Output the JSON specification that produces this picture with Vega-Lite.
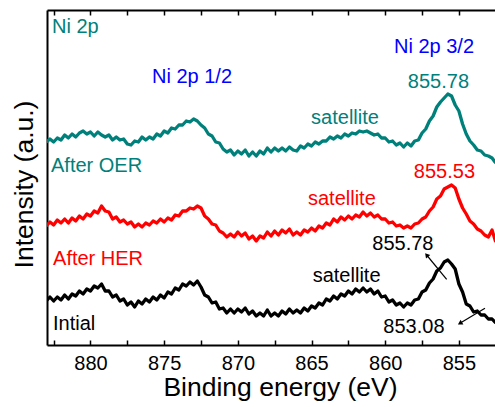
{
  "$schema": "https://vega.github.io/schema/vega-lite/v6.json",
  "width": 448,
  "height": 335,
  "autosize": "none",
  "padding": {"left": 47, "top": 10, "right": 0, "bottom": 62},
  "config": {
    "view": {"stroke": null},
    "font": "Liberation Sans",
    "text": {"font": "Liberation Sans"}
  },
  "resolve": {"axis": {"x": "independent", "y": "independent"}},
  "datasets": {
    "spectra": [
      {"e":883.00,"o":142,"h":226,"i":301},{"e":882.75,"o":139,"h":222,"i":297},{"e":882.50,"o":142,"h":225,"i":301},{"e":882.25,"o":138,"h":220,"i":297},
      {"e":882.00,"o":140,"h":223,"i":300},{"e":881.75,"o":135,"h":219,"i":295},{"e":881.50,"o":138,"h":223,"i":299},{"e":881.25,"o":134,"h":218,"i":294},
      {"e":881.00,"o":137,"h":221,"i":296},{"e":880.75,"o":133,"h":216,"i":291},{"e":880.50,"o":131,"h":219,"i":294},{"e":880.25,"o":134,"h":214,"i":289},
      {"e":880.00,"o":132,"h":216,"i":291},{"e":879.75,"o":136,"h":211,"i":286},{"e":879.50,"o":132,"h":213,"i":288},{"e":879.25,"o":135,"h":206,"i":284},
      {"e":879.00,"o":137,"h":211,"i":291},{"e":878.75,"o":135,"h":212,"i":291},{"e":878.50,"o":140,"h":219,"i":297},{"e":878.25,"o":137,"h":217,"i":295},
      {"e":878.00,"o":140,"h":222,"i":301},{"e":877.75,"o":139,"h":220,"i":299},{"e":877.50,"o":144,"h":224,"i":305},{"e":877.25,"o":145,"h":222,"i":302},
      {"e":877.00,"o":141,"h":227,"i":307},{"e":876.75,"o":142,"h":224,"i":301},{"e":876.50,"o":137,"h":227,"i":304},{"e":876.25,"o":140,"h":223,"i":299},
      {"e":876.00,"o":137,"h":225,"i":302},{"e":875.75,"o":139,"h":221,"i":297},{"e":875.50,"o":134,"h":223,"i":300},{"e":875.25,"o":136,"h":219,"i":295},
      {"e":875.00,"o":131,"h":222,"i":298},{"e":874.75,"o":133,"h":218,"i":292},{"e":874.50,"o":128,"h":220,"i":294},{"e":874.25,"o":129,"h":215,"i":288},
      {"e":874.00,"o":125,"h":216,"i":290},{"e":873.75,"o":125,"h":211,"i":284},{"e":873.50,"o":121,"h":211,"i":286},{"e":873.25,"o":122,"h":208,"i":282},
      {"e":873.00,"o":119,"h":209,"i":285},{"e":872.75,"o":121,"h":206,"i":281},{"e":872.50,"o":125,"h":208,"i":287},{"e":872.25,"o":128,"h":216,"i":295},
      {"e":872.00,"o":134,"h":219,"i":297},{"e":871.75,"o":136,"h":224,"i":303},{"e":871.50,"o":142,"h":225,"i":302},{"e":871.25,"o":143,"h":231,"i":309},
      {"e":871.00,"o":149,"h":233,"i":308},{"e":870.75,"o":152,"h":237,"i":313},{"e":870.50,"o":150,"h":234,"i":309},{"e":870.25,"o":155,"h":237,"i":313},
      {"e":870.00,"o":151,"h":232,"i":309},{"e":869.75,"o":154,"h":236,"i":312},{"e":869.50,"o":150,"h":233,"i":308},{"e":869.25,"o":156,"h":239,"i":314},
      {"e":869.00,"o":152,"h":236,"i":311},{"e":868.75,"o":156,"h":241,"i":316},{"e":868.50,"o":151,"h":236,"i":313},{"e":868.25,"o":154,"h":238,"i":316},
      {"e":868.00,"o":148,"h":232,"i":310},{"e":867.75,"o":152,"h":236,"i":316},{"e":867.50,"o":148,"h":231,"i":313},{"e":867.25,"o":151,"h":235,"i":316},
      {"e":867.00,"o":148,"h":230,"i":311},{"e":866.75,"o":151,"h":233,"i":314},{"e":866.50,"o":147,"h":229,"i":309},{"e":866.25,"o":150,"h":235,"i":313},
      {"e":866.00,"o":151,"h":232,"i":310},{"e":865.75,"o":146,"h":235,"i":313},{"e":865.50,"o":148,"h":230,"i":308},{"e":865.25,"o":144,"h":232,"i":311},
      {"e":865.00,"o":146,"h":228,"i":306},{"e":864.75,"o":142,"h":231,"i":308},{"e":864.50,"o":144,"h":226,"i":303},{"e":864.25,"o":141,"h":228,"i":305},
      {"e":864.00,"o":141,"h":223,"i":299},{"e":863.75,"o":137,"h":225,"i":301},{"e":863.50,"o":139,"h":219,"i":296},{"e":863.25,"o":136,"h":222,"i":299},
      {"e":863.00,"o":138,"h":217,"i":294},{"e":862.75,"o":134,"h":220,"i":296},{"e":862.50,"o":136,"h":216,"i":291},{"e":862.25,"o":133,"h":219,"i":294},
      {"e":862.00,"o":134,"h":215,"i":289},{"e":861.75,"o":131,"h":217,"i":292},{"e":861.50,"o":132,"h":212,"i":288},{"e":861.25,"o":131,"h":216,"i":292},
      {"e":861.00,"o":133,"h":213,"i":289},{"e":860.75,"o":135,"h":217,"i":294},{"e":860.50,"o":134,"h":215,"i":291},{"e":860.25,"o":138,"h":219,"i":297},
      {"e":860.00,"o":138,"h":219,"i":296},{"e":859.75,"o":142,"h":223,"i":302},{"e":859.50,"o":141,"h":222,"i":300},{"e":859.25,"o":145,"h":226,"i":305},
      {"e":859.00,"o":143,"h":225,"i":303},{"e":858.75,"o":147,"h":228,"i":307},{"e":858.50,"o":143,"h":226,"i":303},{"e":858.25,"o":146,"h":228,"i":305},
      {"e":858.00,"o":141,"h":224,"i":300},{"e":857.75,"o":140,"h":223,"i":299},{"e":857.50,"o":133,"h":219,"i":292},{"e":857.25,"o":129,"h":217,"i":290},
      {"e":857.00,"o":121,"h":211,"i":283},{"e":856.75,"o":116,"h":207,"i":279},{"e":856.50,"o":107,"h":199,"i":271},{"e":856.25,"o":102,"h":196,"i":268},
      {"e":856.00,"o":98,"h":189,"i":262},{"e":855.75,"o":94,"h":187,"i":260},{"e":855.50,"o":96,"h":185,"i":264},{"e":855.25,"o":105,"h":188,"i":269},
      {"e":855.00,"o":111,"h":199,"i":284},{"e":854.75,"o":124,"h":208,"i":292},{"e":854.50,"o":134,"h":214,"i":304},{"e":854.25,"o":141,"h":221,"i":306},
      {"e":854.00,"o":145,"h":224,"i":312},{"e":853.75,"o":150,"h":229,"i":311},{"e":853.50,"o":151,"h":231,"i":315},{"e":853.25,"o":155,"h":235,"i":315},
      {"e":853.00,"o":156,"h":237,"i":319},{"e":852.75,"o":158,"h":230,"i":319},{"e":852.50,"o":163,"h":242,"i":323}
    ],
    "labelsLeft": [
      {"e":882.61,"py":33,"text":"Ni 2p","series":"o"},
      {"e":882.68,"py":172,"text":"After OER","series":"o"},
      {"e":882.54,"py":265,"text":"After HER","series":"h"},
      {"e":882.54,"py":330,"text":"Intial","series":"i"}
    ],
    "labelsCenter": [
      {"e":873.11,"py":83,"text":"Ni 2p 1/2","series":"b"},
      {"e":856.69,"py":53,"text":"Ni 2p 3/2","series":"b"},
      {"e":856.39,"py":88,"text":"855.78","series":"o"},
      {"e":862.73,"py":124,"text":"satellite","series":"o"},
      {"e":855.98,"py":178,"text":"855.53","series":"h"},
      {"e":862.94,"py":205,"text":"satellite","series":"h"},
      {"e":862.62,"py":282,"text":"satellite","series":"i"},
      {"e":858.80,"py":250,"text":"855.78","series":"i"},
      {"e":858.05,"py":333,"text":"853.08","series":"i"}
    ],
    "arrows": [
      {"id":1,"e":857.19,"py":255,"e2":855.83,"py2":279.3},
      {"id":2,"e":854.93,"py":323.3,"e2":853.23,"py2":308.3}
    ]
  },
  "layer": [
    {
      "data": {"name": "spectra"},
      "transform": [{"fold": ["o", "h", "i"], "as": ["series", "py"]}],
      "mark": {"type": "line", "strokeWidth": 3.3, "clip": true, "strokeJoin": "round"},
      "encoding": {
        "x": {"field": "e", "type": "quantitative", "scale": {"domain": [852.55, 882.95], "reverse": true, "nice": false, "zero": false},
          "axis": {"orient": "bottom", "values": [855, 857.5, 860, 862.5, 865, 867.5, 870, 872.5, 875, 877.5, 880, 882.5],
            "labelExpr": "datum.value % 5 == 0 ? datum.label : ''", "labelFontSize": 20, "labelColor": "#000", "labelPadding": 13,
            "tickSize": -5, "tickColor": "#000", "tickWidth": 1.5, "grid": false, "domainColor": "#000", "domainWidth": 2,
            "title": "Binding energy (eV)", "titleFontSize": 26.5, "titleFontWeight": "normal", "titleColor": "#000", "titlePadding": 1, "titleX": 233}},
        "y": {"field": "py", "type": "quantitative", "scale": {"domain": [345, 10], "nice": false, "zero": false},
          "axis": {"orient": "left", "ticks": false, "labels": false, "grid": false, "domainColor": "#000", "domainWidth": 2,
            "title": "Intensity (a.u.)", "titleFontSize": 26.5, "titleFontWeight": "normal", "titleColor": "#000", "titlePadding": 9, "titleY": 174}},
        "color": {"field": "series", "type": "nominal", "scale": {"domain": ["o", "h", "i", "b"], "range": ["#00807a", "#ff0000", "#000000", "#0000ff"]}, "legend": null},
        "detail": {"field": "series"}
      }
    },
    {
      "data": {"name": "spectra"},
      "mark": {"type": "rule", "opacity": 0},
      "encoding": {
        "x": {"field": "e", "type": "quantitative",
          "axis": {"orient": "top", "values": [855, 857.5, 860, 862.5, 865, 867.5, 870, 872.5, 875, 877.5, 880, 882.5],
            "labels": false, "tickSize": -5, "tickColor": "#000", "tickWidth": 1.5, "grid": false, "domainColor": "#000", "domainWidth": 2, "title": null}}
      }
    },
    {
      "data": {"name": "labelsLeft"},
      "mark": {"type": "text", "align": "left", "baseline": "alphabetic", "fontSize": 20},
      "encoding": {
        "x": {"field": "e", "type": "quantitative", "axis": null},
        "y": {"field": "py", "type": "quantitative", "axis": null},
        "text": {"field": "text"},
        "color": {"field": "series", "type": "nominal", "legend": null}
      }
    },
    {
      "data": {"name": "labelsCenter"},
      "mark": {"type": "text", "align": "center", "baseline": "alphabetic", "fontSize": 20},
      "encoding": {
        "x": {"field": "e", "type": "quantitative", "axis": null},
        "y": {"field": "py", "type": "quantitative", "axis": null},
        "text": {"field": "text"},
        "color": {"field": "series", "type": "nominal", "legend": null}
      }
    },
    {
      "data": {"name": "arrows"},
      "mark": {"type": "rule", "color": "#000", "strokeWidth": 1.2},
      "encoding": {
        "x": {"field": "e", "type": "quantitative", "axis": null},
        "y": {"field": "py", "type": "quantitative", "axis": null},
        "x2": {"field": "e2"},
        "y2": {"field": "py2"}
      }
    },
    {
      "data": {"name": "arrows"},
      "transform": [{"filter": "datum.id == 1"}],
      "mark": {"type": "point", "shape": "triangle-up", "filled": true, "color": "#000", "size": 30, "angle": 320, "opacity": 1},
      "encoding": {
        "x": {"field": "e", "type": "quantitative", "axis": null},
        "y": {"field": "py", "type": "quantitative", "axis": null}
      }
    },
    {
      "data": {"name": "arrows"},
      "transform": [{"filter": "datum.id == 2"}],
      "mark": {"type": "point", "shape": "triangle-up", "filled": true, "color": "#000", "size": 30, "angle": 239, "opacity": 1},
      "encoding": {
        "x": {"field": "e", "type": "quantitative", "axis": null},
        "y": {"field": "py", "type": "quantitative", "axis": null}
      }
    }
  ]
}
